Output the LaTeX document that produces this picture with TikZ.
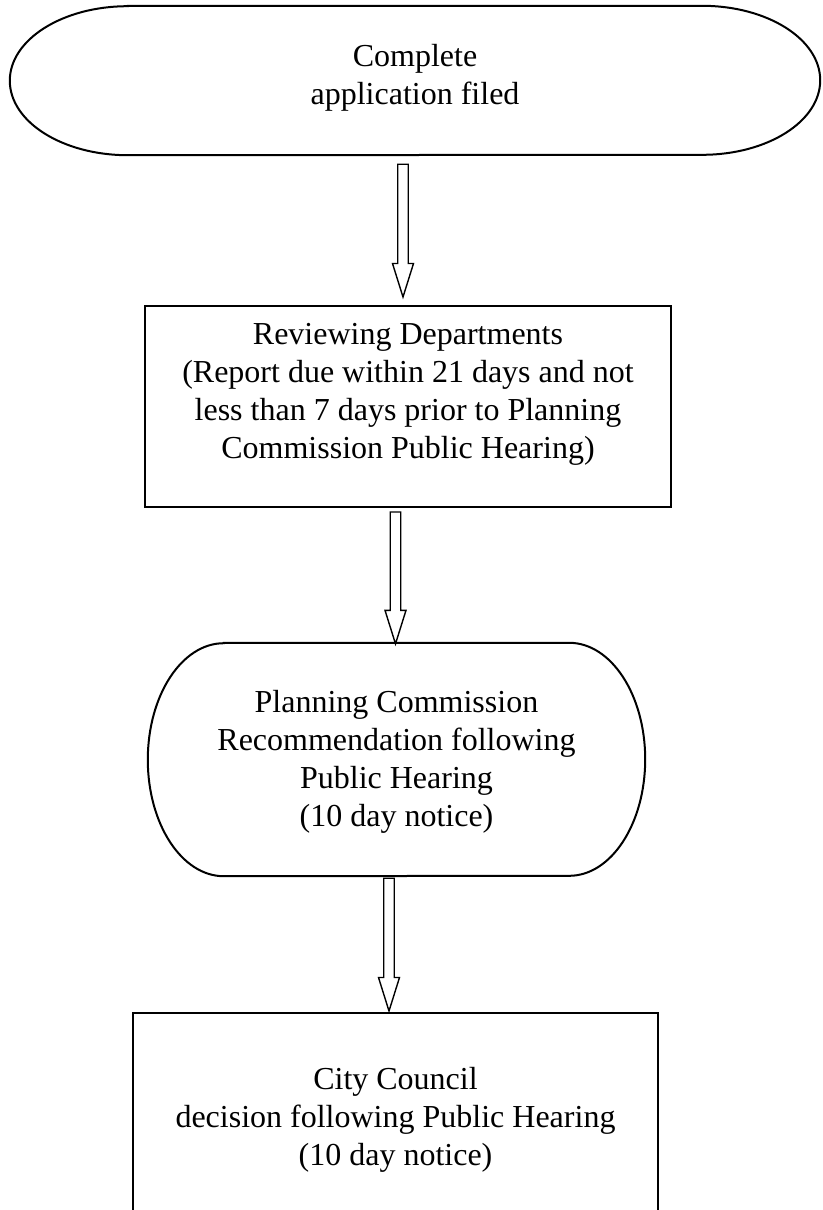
\documentclass[tikz,border=0pt]{standalone}
\usepackage{fontspec}
\setmainfont{Liberation Serif}
\usetikzlibrary{calc}
\tikzset{
  shapeline/.style={draw=black, line width=2pt},
  boxnode/.style={rectangle, draw=black, line width=2pt, inner sep=0pt},
  ghost/.style={rectangle, inner sep=0pt, draw=none},
  txt/.style={align=center, inner sep=0pt, text=black, font=\fontsize{32pt}{38pt}\selectfont},
  blockarrow/.style={draw=black, line width=1.4pt, fill=white, line join=miter},
}
\newcommand\blockarr[2]{\draw[blockarrow] ($(#1)+(-5.25,0)$) -- ($(#2)+(-5.25,33.5)$) -- ($(#2)+(-10.5,33.5)$) -- (#2) -- ($(#2)+(10.5,33.5)$) -- ($(#2)+(5.25,33.5)$) -- ($(#1)+(5.25,0)$) -- cycle;}
\begin{document}
\begin{tikzpicture}[x=1pt,y=1pt]
\useasboundingbox (0,0) rectangle (822,-1210);
\clip (0,0) rectangle (822,-1210);
% start terminator
\node[ghost, minimum width=810pt, minimum height=149pt] (start) at (415,-80.5) {};
\draw[shapeline] ([xshift=118pt]start.north west) -- ([xshift=-118pt]start.north east)
  arc[start angle=90, end angle=-90, x radius=118pt, y radius=74.5pt]
  -- ([xshift=118pt]start.south west)
  arc[start angle=270, end angle=90, x radius=118pt, y radius=74.5pt] -- cycle;
\node[txt] (starttext) at (415,-77.5) {\strut Complete\\\strut application filed};
% reviewing departments
\node[boxnode, minimum width=526pt, minimum height=201pt] (review) at (408,-406.5) {};
\node[txt] (reviewtext) at (408,-393.5) {\strut Reviewing Departments\\\strut (Report due within 21 days and not\\\strut less than 7 days prior to Planning\\\strut Commission Public Hearing)};
% planning commission
\node[ghost, minimum width=497pt, minimum height=233pt] (pc) at (396.5,-759.5) {};
\draw[shapeline] ([xshift=76pt]pc.north west) -- ([xshift=-76pt]pc.north east)
  arc[start angle=90, end angle=-90, x radius=76pt, y radius=116.5pt]
  -- ([xshift=76pt]pc.south west)
  arc[start angle=270, end angle=90, x radius=76pt, y radius=116.5pt] -- cycle;
\node[txt] (pctext) at (396.5,-762) {\strut Planning Commission\\\strut Recommendation following\\\strut Public Hearing\\\strut (10 day notice)};
% city council
\node[boxnode, minimum width=525pt, minimum height=240pt, anchor=north] (cc) at (395.5,-1012) {};
\node[txt] (cctext) at (395.5,-1120) {\strut City Council\\\strut decision following Public Hearing\\\strut (10 day notice)};
% arrows
\coordinate (a1s) at ($(start.south)+(-12,-9)$);
\coordinate (a1e) at ($(review.north)+(-5,8)$);
\coordinate (a2s) at ($(review.south)+(-12.5,-4)$);
\coordinate (a2e) at ($(pc.north)+(-1,-1)$);
\coordinate (a3s) at ($(pc.south)+(-7.5,-2)$);
\coordinate (a3e) at ($(cc.north)+(-6.5,1)$);
\blockarr{a1s}{a1e}
\blockarr{a2s}{a2e}
\blockarr{a3s}{a3e}
\end{tikzpicture}
\end{document}
